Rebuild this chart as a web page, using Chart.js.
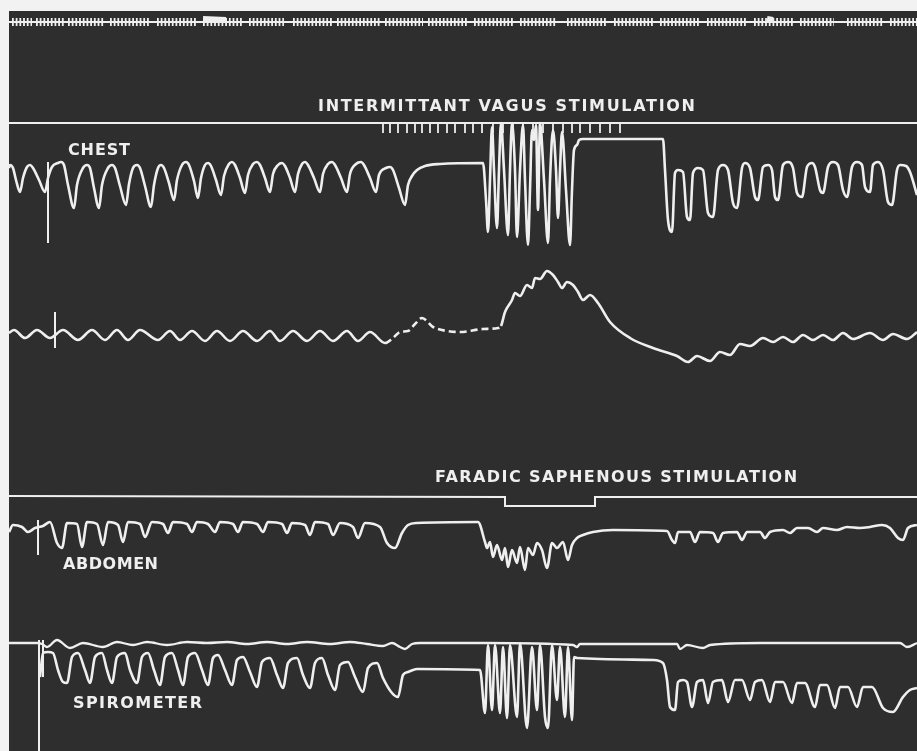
<!DOCTYPE html>
<html>
<head>
<meta charset="utf-8">
<script src="https://cdn.jsdelivr.net/npm/chart.js@4.4.1/dist/chart.umd.min.js"></script>
<style>
  body { margin: 0; background: #f2f2f2; }
  #wrap { position: absolute; left: 9px; top: 11px; width: 908px; height: 740px; background: #2e2e2e; }
</style>
</head>
<body>
<div id="wrap"><canvas id="tracing" width="908" height="740"></canvas></div>
<script>
// time signal groups (start, end) on the top line
const timeGroups = [[12,32],[36,65],[68,104],[110,150],[157,197],[203,243],[249,284],[293,333],[337,380],
  [385,423],[428,467],[474,514],[520,557],[567,607],[614,654],[660,700],[707,747],[754,794],[800,834],[847,884],[890,917]];
const timeBlobs = [[203,226],[767,773]];

// vagus stimulus marks
const vagusTicks = [383,390,398,407,415,422,430,438,447,455,465,473,482,493,503,513,523,533,543,553,563,572,580,590,600,610,620];

const chest = [[9,168],[10,165],[13,168],[16,180],[20,192],[23,178],[27,167],[30,165],[33,168],[39,180],[45,192],
  [48,178],[52,167],[58,163],[61,162],[64,165],[68,185],[74,208],[77,185],[83,168],[87,165],[90,168],[94,188],
  [99,208],[102,185],[108,168],[112,165],[115,168],[120,186],[126,205],[129,184],[133,168],[137,165],[140,168],
  [145,186],[151,207],[154,185],[158,168],[161,165],[164,168],[169,183],[174,200],[177,180],[182,165],[186,162],
  [189,165],[194,181],[198,198],[201,178],[205,165],[208,163],[211,166],[216,180],[221,195],[224,176],[229,164],
  [232,162],[235,165],[240,178],[245,193],[248,175],[253,164],[257,162],[260,165],[265,178],[270,192],[273,174],
  [278,165],[282,163],[285,166],[290,178],[295,192],[298,174],[302,164],[305,162],[308,165],[314,178],[320,192],
  [323,174],[328,164],[332,162],[335,165],[341,178],[347,192],[350,174],[356,164],[361,162],[364,165],[370,178],
  [376,192],[379,175],[386,168],[390,167],[393,170],[399,188],[405,205],[408,185],[412,176],[417,170],[425,166],
  [440,164],[483,163],
  [486,200],[488,232],[490,180],[492,127],[494,170],[497,228],[499,170],[501,123],[504,170],[508,235],[510,170],
  [512,123],[515,170],[517,237],[520,170],[523,125],[525,180],[528,245],[530,190],[532,130],[534,140],[536,125],
  [538,210],[540,123],[544,180],[548,243],[550,180],[553,130],[556,170],[558,218],[560,170],[562,132],[566,190],
  [570,245],[572,190],[574,150],[577,145],[579,140],[583,139],[663,139],
  [665,170],[668,220],[672,232],[675,173],[678,170],[683,172],[687,217],[690,220],[693,173],[698,168],[703,170],
  [708,213],[713,217],[718,170],[723,165],[728,170],[733,203],[737,208],[742,168],[745,163],[750,168],[755,197],
  [758,200],[763,167],[768,165],[772,170],[775,197],[778,200],[783,165],[788,162],[793,168],[797,193],[802,197],
  [807,167],[812,163],[815,167],[820,190],[823,193],[828,167],[833,162],[838,165],[843,190],[847,197],[852,167],
  [857,162],[862,165],[865,187],[870,192],[873,165],[878,162],[883,170],[888,202],[892,205],[897,170],[900,165],
  [906,166],[910,172],[917,195]];

const pressure = [[9,333],[14,330],[25,338],[37,330],[50,338],[63,330],[78,340],[92,330],[105,340],[117,330],
  [128,340],[140,330],[158,340],[170,331],[180,340],[192,331],[205,341],[217,331],[230,341],[243,331],[257,341],
  [270,331],[280,341],[293,331],[307,341],[320,331],[333,341],[347,331],[358,341],[370,332],[385,343],[393,338],
  [400,332],[408,331],[415,324],[422,318],[433,327],[447,331],[460,332],[483,329],[498,328],[501,326],[505,312],
  [512,300],[515,293],[520,296],[527,285],[532,288],[535,278],[540,279],[547,271],[553,275],[558,282],[562,288],
  [567,282],[573,285],[578,292],[583,300],[590,295],[598,303],[610,322],[630,338],[653,348],[677,356],[688,362],
  [697,356],[710,361],[720,352],[730,355],[740,344],[750,346],[763,338],[773,342],[783,337],[793,342],[803,335],
  [813,340],[823,335],[833,340],[843,333],[853,339],[870,333],[883,340],[893,334],[907,339],[917,332]];

const faradic = [[9,496],[505,497],[505,506],[595,506],[595,497],[917,497]];

const abdomen = [[9,532],[13,525],[22,527],[28,532],[35,528],[43,526],[50,522],[57,543],[62,548],[67,523],[77,524],
  [82,547],[87,522],[97,524],[103,545],[108,522],[118,525],[123,542],[128,522],[140,524],[145,537],[152,522],
  [163,524],[168,533],[173,522],[187,524],[192,532],[197,522],[208,524],[215,532],[220,522],[233,524],[238,532],
  [243,522],[257,524],[263,532],[268,522],[282,524],[287,533],[292,523],[305,525],[310,535],[315,522],[328,524],
  [333,535],[340,523],[353,527],[358,538],[365,523],[380,527],[387,543],[395,548],[402,533],[408,525],[417,523],
  [478,522],[485,542],[487,548],[490,542],[493,557],[497,545],[502,560],[505,548],[508,567],[512,550],[517,563],
  [520,547],[525,570],[528,548],[533,555],[537,543],[542,550],[547,568],[552,543],[557,548],[563,542],[568,560],
  [572,545],[577,538],[583,535],[593,532],[613,530],[667,531],[672,540],[675,543],[678,532],[690,532],[695,542],
  [700,532],[713,533],[718,542],[723,533],[737,532],[742,540],[747,532],[760,532],[765,538],[770,532],[783,530],
  [790,533],[797,528],[808,528],[817,532],[823,528],[837,530],[847,527],[860,528],[870,527],[882,525],[890,528],
  [898,538],[903,540],[908,528],[917,525]];

const spiroUpper = [[9,643],[37,643],[42,644],[47,647],[57,640],[70,648],[83,643],[103,647],[117,642],[133,645],
  [147,642],[167,645],[187,642],[207,643],[227,642],[247,644],[267,642],[287,644],[307,642],[330,644],[350,642],
  [367,644],[383,646],[392,643],[400,647],[405,649],[412,644],[420,643],[485,643],[573,645],[577,647],[580,644],
  [677,644],[680,649],[687,645],[703,648],[710,645],[760,643],[900,643],[907,647],[917,643]];

const spiroLower = [[40,677],[43,653],[48,652],[53,653],[58,670],[63,682],[67,683],[72,657],[78,653],[85,670],
  [90,683],[95,657],[102,653],[107,670],[112,683],[117,657],[125,653],[130,670],[137,683],[142,657],[148,653],
  [154,670],[160,685],[165,657],[172,653],[178,670],[183,685],[188,657],[195,653],[202,670],[208,685],[213,658],
  [218,655],[225,670],[232,685],[237,660],[243,657],[250,672],[257,687],[262,662],[270,658],[277,675],[283,688],
  [288,663],[297,658],[303,675],[310,688],[315,663],[322,658],[328,675],[335,690],[340,665],[348,662],[355,677],
  [363,692],[368,668],[377,663],[383,678],[392,693],[398,697],[403,675],[408,672],[417,669],[480,670],
  [485,713],[488,645],[492,710],[495,645],[500,713],[503,647],[507,718],[510,645],[517,717],[520,643],[527,728],
  [532,647],[537,710],[540,645],[545,717],[548,728],[552,645],[557,700],[560,647],[565,717],[568,647],[572,720],
  [574,657],[577,658],[653,660],[663,663],[667,680],[670,707],[675,710],[678,682],[683,680],[687,682],[692,707],
  [697,682],[703,680],[708,703],[713,682],[722,680],[728,702],[735,680],[742,680],[750,700],[755,682],[762,680],
  [770,702],[775,682],[783,682],[792,703],[797,683],[805,683],[815,707],[820,685],[827,685],[835,708],[840,687],
  [848,687],[857,707],[863,687],[872,687],[883,708],[893,712],[903,697],[910,690],[917,688]];

// signal markers drawn across the traces
const markers = [[[48,162],[48,243]],[[55,312],[55,348]],[[38,520],[38,555]],[[39,640],[39,751]],[[43,640],[43,677]]];

const labels = [
  { text: 'INTERMITTANT VAGUS STIMULATION', from: 318, to: 695, y: 107 },
  { text: 'CHEST', from: 68, to: 130, y: 151 },
  { text: 'FARADIC SAPHENOUS STIMULATION', from: 435, to: 797, y: 478 },
  { text: 'ABDOMEN', from: 63, to: 158, y: 565 },
  { text: 'SPIROMETER', from: 73, to: 202, y: 704 }
];

const ink = '#efefef';
const pts = arr => arr.map(p => ({ x: p[0], y: p[1] }));

function trace(arr, width, extra) {
  return Object.assign({
    data: pts(arr), borderColor: ink, borderWidth: width, pointRadius: 0,
    tension: 0.4, cubicInterpolationMode: 'monotone', fill: false
  }, extra || {});
}
function straight(arr, width, extra) {
  return Object.assign({ data: pts(arr), borderColor: ink, borderWidth: width, pointRadius: 0, tension: 0, fill: false }, extra || {});
}

let datasets = [];
datasets.push(straight([[9,22],[917,22]], 2));
timeGroups.forEach(g => datasets.push(straight([[g[0],22],[g[1],22]], 8, { borderDash: [1.8, 1.9], borderCapStyle: 'butt' })));
timeBlobs.forEach(b => datasets.push(straight([[b[0],19],[b[1],20]], 6)));
datasets.push(straight([[9,123],[917,123]], 2));
datasets.push({
  data: vagusTicks.map(x => ({ x: x, y: 128 })), showLine: false, pointStyle: 'line', rotation: 90,
  pointRadius: 5, borderColor: ink, borderWidth: 1.8
});
datasets.push(trace(chest, 2.6));
datasets.push(trace(pressure, 2.6, {
  segment: { borderDash: c => (c.p0.parsed.x >= 383 && c.p1.parsed.x <= 501) ? [7, 4] : undefined }
}));
datasets.push(straight(faradic, 2));
datasets.push(trace(abdomen, 2.6));
datasets.push(trace(spiroUpper, 2.3));
datasets.push(trace(spiroLower, 2.6));
markers.forEach(m => datasets.push(straight(m, 2)));

const textPlugin = {
  id: 'traceLabels',
  afterDatasetsDraw(chart) {
    const ctx = chart.ctx, sx = chart.scales.x, sy = chart.scales.y;
    ctx.save();
    ctx.fillStyle = ink;
    ctx.font = 'bold 16px "DejaVu Sans"';
    ctx.textBaseline = 'middle';
    labels.forEach(l => {
      const left = sx.getPixelForValue(l.from), right = sx.getPixelForValue(l.to);
      ctx.letterSpacing = '0px';
      const w = ctx.measureText(l.text).width;
      const gap = (right - left - w) / (l.text.length - 1);
      ctx.letterSpacing = gap.toFixed(2) + 'px';
      ctx.fillText(l.text, left, sy.getPixelForValue(l.y));
    });
    ctx.restore();
  }
};

new Chart(document.getElementById('tracing'), {
  type: 'line',
  data: { datasets: datasets },
  options: {
    responsive: false,
    animation: false,
    layout: { padding: 0, autoPadding: false },
    plugins: { legend: { display: false }, tooltip: { enabled: false } },
    scales: {
      x: { type: 'linear', min: 9, max: 917, display: false },
      y: { type: 'linear', min: 11, max: 751, reverse: true, display: false }
    }
  },
  plugins: [textPlugin]
});
</script>
</body>
</html>
